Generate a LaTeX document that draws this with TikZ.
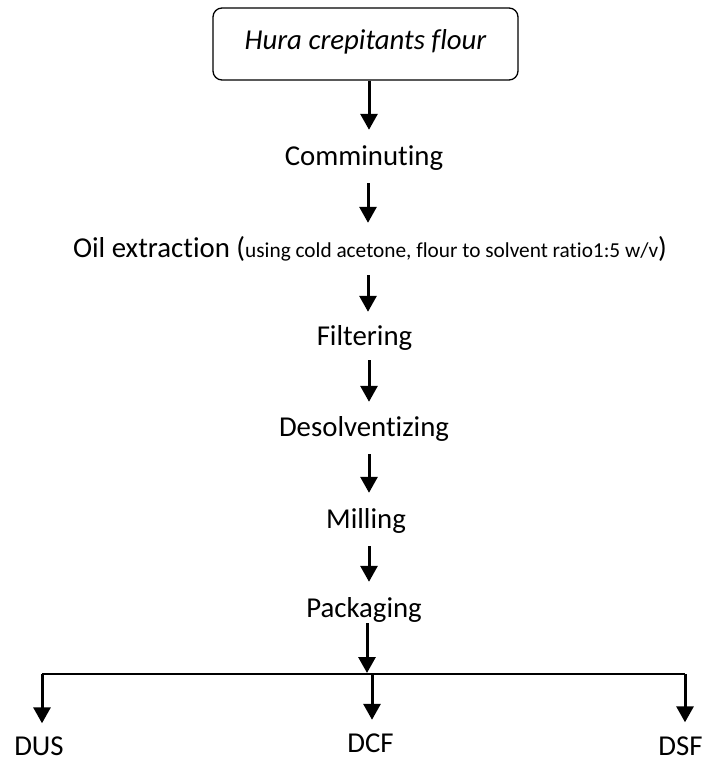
\documentclass[tikz,border=0pt]{standalone}
\usepackage{fontspec}
\setmainfont{Carlito}[Ligatures=NoCommon]
\usetikzlibrary{arrows.meta}
\tikzset{
  stepbox/.style={inner sep=0pt, anchor=base, text height=19pt, text depth=6pt,
    font=\fontsize{28.8}{34}\selectfont},
  endbox/.style={stepbox, text depth=1pt},
  startbox/.style={draw, rounded corners=9pt, line width=1.3pt, minimum width=305pt,
    minimum height=72pt, inner sep=0pt, text height=18pt, text depth=7pt,
    font=\fontsize{28.8}{34}\selectfont\itshape},
  arr/.style={line width=3pt, -{Triangle[width=17pt,length=16pt]}},
  bar/.style={line width=2pt},
}
\begin{document}
\begin{tikzpicture}[x=1pt,y=-1pt]
\useasboundingbox (0,0) rectangle (704,762);
\node[startbox] (box) at (365.5,44) {Hura crepitants flour};
\node[stepbox] (comm) at (364,166) {Comminuting};
\node[stepbox] (oil) at (370,257) {Oil extraction ({\fontsize{21.3}{25}\selectfont using cold acetone, flour to solvent ratio1:5 w/v})};
\node[stepbox] (filt) at (364.5,345) {Filtering};
\node[stepbox] (desol) at (364,436) {Desolventizing};
\node[stepbox] (mill) at (366,528) {Milling};
\node[stepbox] (pack) at (364,617) {Packaging};
\node[endbox] (dus) at (39,755.5) {DUS};
\node[endbox] (dcf) at (370.5,752) {DCF};
\node[endbox] (dsf) at (680.5,755.5) {DSF};
\coordinate (hub) at (367,674);
\coordinate (hl) at (42,674);
\coordinate (hm) at (372,674);
\coordinate (hr) at (685,674);
% vertical chain
\draw[arr, shorten >=17pt] ([xshift=3.5pt]box.south) -- ([xshift=3.5pt]box.south |- comm.north);
\draw[arr, shorten <=11pt, shorten >=15pt] ([xshift=4pt]comm.south) -- ([xshift=4pt]comm.south |- oil.north);
\draw[arr, shorten <=12pt, shorten >=14pt] ([xshift=-2pt]oil.south) -- ([xshift=-2pt]oil.south |- filt.north);
\draw[arr, shorten <=9pt, shorten >=15pt] ([xshift=4.5pt]filt.south) -- ([xshift=4.5pt]filt.south |- desol.north);
\draw[arr, shorten <=12pt, shorten >=16pt] ([xshift=5pt]desol.south) -- ([xshift=5pt]desol.south |- mill.north);
\draw[arr, shorten <=12pt, shorten >=16pt] ([xshift=3pt]mill.south) -- ([xshift=3pt]mill.south |- pack.north);
\draw[arr, shorten >=1pt] (pack.south -| hub) -- (hub);
% distribution bar
\draw[bar] (hl) -- (hr);
\draw[arr, shorten >=13pt] (hl) -- (hl |- dus.north);
\draw[arr, shorten >=13pt] (hm) -- (hm |- dcf.north);
\draw[arr, shorten >=14pt] (hr) -- (hr |- dsf.north);
\end{tikzpicture}
\end{document}
